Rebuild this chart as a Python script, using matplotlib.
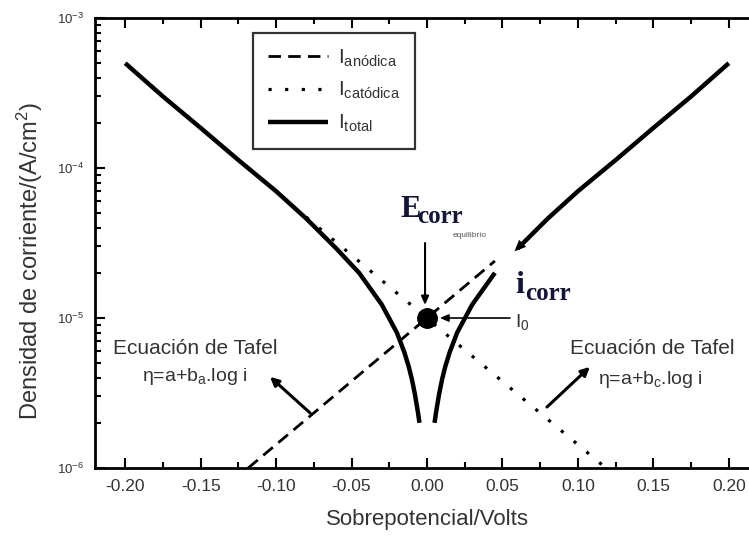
import numpy as np
import matplotlib
matplotlib.use('Agg')
import matplotlib.pyplot as plt
from matplotlib.ticker import MultipleLocator, LogLocator

plt.rcParams['font.family'] = ['Liberation Sans', 'DejaVu Sans']
plt.rcParams['mathtext.fontset'] = 'custom'
plt.rcParams['mathtext.rm'] = 'Liberation Sans'
plt.rcParams['mathtext.it'] = 'Liberation Sans:italic'
plt.rcParams['mathtext.bf'] = 'Liberation Sans:bold'

# -- datos --
# rama catodica (izquierda) de la corriente total
eta_izq = [-0.200, -0.175, -0.150, -0.125, -0.100, -0.080, -0.060, -0.045,
           -0.030, -0.020, -0.015, -0.012, -0.010, -0.008, -0.006, -0.005]
i_izq = [5.0e-4, 3.0e-4, 1.85e-4, 1.13e-4, 7.0e-5, 4.6e-5, 2.9e-5, 2.0e-5,
         1.23e-5, 8.0e-6, 5.9e-6, 4.7e-6, 3.9e-6, 3.1e-6, 2.35e-6, 2.0e-6]
# rama anodica (derecha), cortada por la etiqueta i_corr
eta_der_baja = [0.005, 0.006, 0.008, 0.010, 0.012, 0.015, 0.020, 0.030, 0.045]
i_der_baja = [2.0e-6, 2.35e-6, 3.1e-6, 3.9e-6, 4.7e-6, 5.9e-6, 8.0e-6, 1.23e-5, 2.0e-5]
eta_der_alta = [0.060, 0.080, 0.100, 0.125, 0.150, 0.175, 0.200]
i_der_alta = [2.9e-5, 4.6e-5, 7.0e-5, 1.13e-4, 1.85e-4, 3.0e-4, 5.0e-4]
# rectas de Tafel
eta_anodica = [-0.1185, 0.045]
i_anodica = [1.0e-6, 2.4e-5]
eta_catodica = [-0.080, 0.1185]
i_catodica = [4.7e-5, 1.0e-6]
# punto de equilibrio
eta_corr = 0.0
i_corr = 1.0e-5

x_ticks = [-0.20, -0.15, -0.10, -0.05, 0.00, 0.05, 0.10, 0.15, 0.20]

gris = '#333333'
navy = '#15153a'

fig = plt.figure(figsize=(7.49, 5.36), dpi=100, facecolor='white')
ax = fig.add_axes([95 / 749, 1 - 468 / 536, 664 / 749, 450 / 536])

ax.plot(eta_anodica, i_anodica, color='black', lw=2.0,
        linestyle=(0, (4.5, 2.6)), label=r'$\mathregular{I_{anódica}}$')
ax.plot(eta_catodica, i_catodica, color='black', lw=2.3,
        linestyle=(0, (1, 4.2)), label=r'$\mathregular{I_{catódica}}$')
ax.plot(eta_izq, i_izq, color='black', lw=3.2, solid_capstyle='butt',
        solid_joinstyle='round', label=r'$\mathregular{I_{total}}$')
ax.plot(eta_der_baja, i_der_baja, color='black', lw=3.2, solid_capstyle='butt',
        solid_joinstyle='round')
ax.plot(eta_der_alta, i_der_alta, color='black', lw=3.2, solid_capstyle='butt',
        solid_joinstyle='round')
# punta de flecha al inicio del tramo superior
ax.annotate('', xy=(eta_der_alta[0] - 0.002, i_der_alta[0] * 0.96),
            xytext=(eta_der_alta[1], i_der_alta[1]),
            arrowprops=dict(arrowstyle='-|>,head_length=0.8,head_width=0.35',
                            color='black', lw=0.1, shrinkA=0, shrinkB=0))

ax.plot([eta_corr], [i_corr], marker='o', color='black', markersize=14, zorder=5)

ax.set_yscale('log')
ax.set_xlim(-0.22, 0.22)
ax.set_ylim(1e-6, 1e-3)
ax.set_xticks(x_ticks)
ax.set_xticklabels([f'{v:.2f}' for v in x_ticks])
ax.xaxis.set_minor_locator(MultipleLocator(0.025))
ax.yaxis.set_major_locator(LogLocator(base=10))
ax.yaxis.set_minor_locator(LogLocator(base=10, subs=np.arange(2, 10)))
ax.tick_params(which='both', direction='in', top=True, right=True,
               width=1.5, colors='black', labelcolor=gris)
ax.tick_params(which='major', length=7)
ax.tick_params(which='minor', length=4)
ax.tick_params(axis='x', labelsize=12.5, pad=8)
ax.tick_params(axis='y', labelsize=9.5, pad=8)
for sp in ax.spines.values():
    sp.set_linewidth(2)

ax.set_xlabel('Sobrepotencial/Volts', fontsize=16, color=gris, labelpad=11)
ax.set_ylabel('Densidad de corriente/(A/cm$^2$)', fontsize=17, color=gris,
              labelpad=8)
ax.yaxis.set_label_coords(-0.075, 0.46)

leg = ax.legend(loc='upper left', bbox_to_anchor=(0.238, 0.967), fontsize=15,
                frameon=True, fancybox=False, handlelength=2.9,
                handletextpad=0.5, labelspacing=0.55, borderpad=0.7,
                borderaxespad=0)
leg.get_frame().set_edgecolor('black')
leg.get_frame().set_linewidth(1.6)
for t in leg.get_texts():
    t.set_color(gris)

# E_corr
ax.text(-0.0179, 4.7e-5, 'E', fontsize=22, fontweight='bold',
        family='Liberation Serif', color=navy, ha='left', va='baseline')
ax.text(-0.0063, 4.3e-5, 'corr', fontsize=18, fontweight='bold',
        family='Liberation Serif', color=navy, ha='left', va='baseline')
ax.text(0.0285, 3.57e-5, 'equilibrio', fontsize=6, color='#555555',
        ha='center', va='center')
ax.annotate('', xy=(-0.0013, 1.22e-5), xytext=(-0.0013, 3.16e-5),
            arrowprops=dict(arrowstyle='-|>,head_length=0.5,head_width=0.22',
                            color='black', lw=1.5, shrinkA=0, shrinkB=0))

# i_corr
ax.text(0.0583, 1.47e-5, 'i', fontsize=23, fontweight='bold',
        family='Liberation Serif', color=navy, ha='left', va='baseline')
ax.text(0.0649, 1.32e-5, 'corr', fontsize=18, fontweight='bold',
        family='Liberation Serif', color=navy, ha='left', va='baseline')

# I_0
ax.annotate('', xy=(0.0086, 1.0e-5), xytext=(0.055, 1.0e-5),
            arrowprops=dict(arrowstyle='-|>,head_length=0.5,head_width=0.22',
                            color='black', lw=1.2, shrinkA=0, shrinkB=0))
ax.text(0.0583, 9.4e-6, r'$\mathregular{I_0}$', fontsize=14, color=gris,
        ha='left', va='center')

# Ecuaciones de Tafel
ax.text(-0.1536, 6.3e-6, 'Ecuación de Tafel', fontsize=15, color=gris,
        ha='center', va='center')
ax.text(-0.1536, 4.05e-6, r'η=a+b$_{\mathregular{a}}$.log i', fontsize=14,
        color=gris, ha='center', va='center')
ax.annotate('', xy=(-0.104, 4.05e-6), xytext=(-0.0775, 2.33e-6),
            arrowprops=dict(arrowstyle='-|>,head_length=0.5,head_width=0.25',
                            color='black', lw=2.2, shrinkA=0, shrinkB=0))

ax.text(0.149, 6.3e-6, 'Ecuación de Tafel', fontsize=15, color=gris,
        ha='center', va='center')
ax.text(0.148, 3.9e-6, r'η=a+b$_{\mathregular{c}}$.log i', fontsize=14,
        color=gris, ha='center', va='center')
ax.annotate('', xy=(0.1079, 4.72e-6), xytext=(0.0795, 2.55e-6),
            arrowprops=dict(arrowstyle='-|>,head_length=0.5,head_width=0.25',
                            color='black', lw=2.2, shrinkA=0, shrinkB=0))

fig.savefig('out.png', dpi=100, facecolor='white')
